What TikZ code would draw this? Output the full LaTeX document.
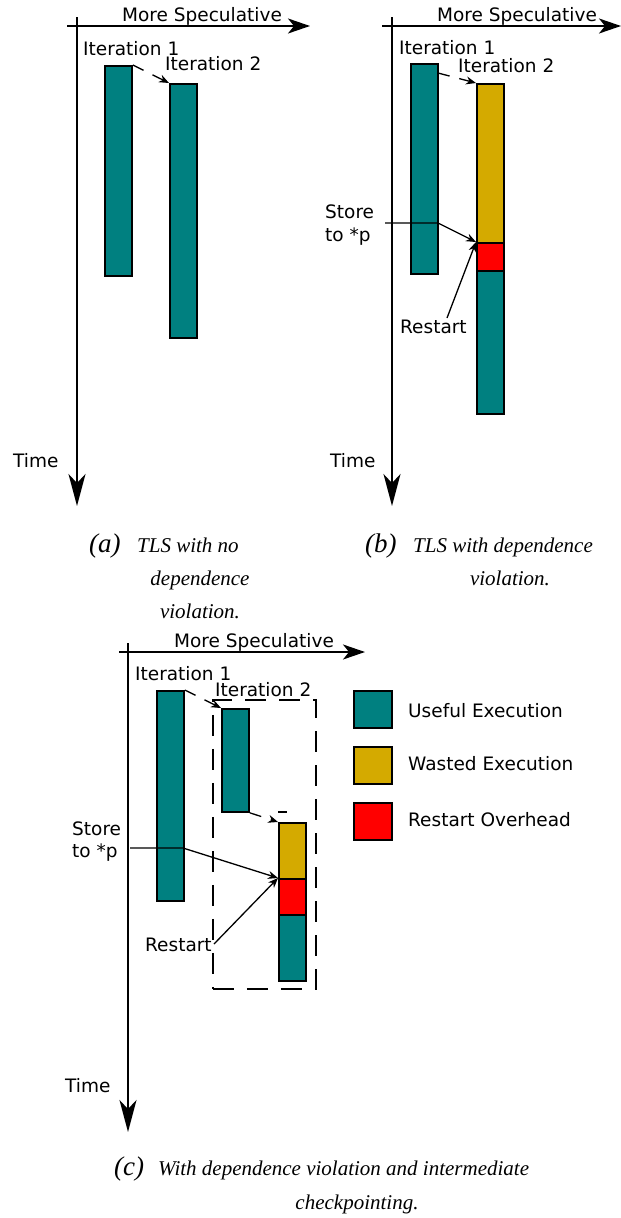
\documentclass[tikz,border=0pt]{standalone}
\usepackage{fontspec}
\setmainfont{Liberation Serif}
\setsansfont{DejaVu Sans}
\usetikzlibrary{arrows.meta}
\definecolor{useful}{HTML}{008080}
\definecolor{wasted}{HTML}{D4AA00}
\definecolor{overhead}{HTML}{FF0000}
\begin{document}
\begin{tikzpicture}[x=1pt,y=-1pt,
 lbl/.style={font=\sffamily\fontsize{18.5}{22}\selectfont, inner sep=0pt, anchor=base west},
 captext/.style={font=\itshape\fontsize{21}{24}\selectfont, inner sep=0pt},
 caplab/.style={font=\itshape\fontsize{27}{28}\selectfont, inner sep=0pt, anchor=base west},
 haxis/.style={line width=2pt, -{Stealth[length=22pt,width=15pt,inset=6pt]}},
 vaxis/.style={line width=2pt, -{Stealth[length=32pt,width=17pt,inset=9pt]}},
 bar/.style={draw=black, line width=1.8pt, inner sep=0pt, minimum width=27pt, anchor=north west},
 legbox/.style={draw=black, line width=1.8pt, inner sep=0pt, minimum width=38pt, minimum height=37pt, anchor=north west},
 ptr/.style={line width=1.3pt, -{Stealth[length=10pt,width=8pt]}},
 dptr/.style={ptr, dash pattern=on 12pt off 10pt},
 dbox/.style={draw=black, line width=1.5pt, dash pattern=on 21pt off 13pt, inner sep=0pt, anchor=north west},
]
\useasboundingbox (0,0) rectangle (621,1218);

% ---------------- panel (a)
\coordinate (a-h0) at (67,26); \coordinate (a-h1) at (310,26);
\draw[haxis] (a-h0) -- (a-h1);
\coordinate (a-v0) at (77,17); \coordinate (a-v1) at (77,506);
\draw[vaxis] (a-v0) -- (a-v1);
\node[lbl] (a-ms) at (122,21) {More Speculative};
\node[lbl] (a-it1) at (83,55) {Iteration 1};
\node[lbl] (a-it2) at (165,70) {Iteration 2};
\node[lbl] (a-time) at (13,467) {Time};
\node[bar, fill=useful, minimum height=210pt] (a-b1) at (104,65) {};
\node[bar, fill=useful, minimum height=254pt] (a-b2) at (169,83) {};
\draw[dptr] (a-b1.north east) -- (a-b2.north west);
\node[caplab] (a-cl) at (89,552) {(a)};
\node[captext, anchor=base west] (a-c1) at (137,552) {TLS with no};
\node[captext, anchor=base] (a-c2) at (200,585) {dependence};
\node[captext, anchor=base] (a-c3) at (200,618) {violation.};

% ---------------- panel (b)
\coordinate (b-h0) at (382,26); \coordinate (b-h1) at (621,26);
\draw[haxis] (b-h0) -- (b-h1);
\coordinate (b-v0) at (392,17); \coordinate (b-v1) at (392,506);
\draw[vaxis] (b-v0) -- (b-v1);
\node[lbl] (b-ms) at (437,21) {More Speculative};
\node[lbl] (b-it1) at (399,54) {Iteration 1};
\node[lbl] (b-it2) at (458,72) {Iteration 2};
\node[lbl] (b-time) at (330,467) {Time};
\node[bar, fill=useful, minimum height=210pt] (b-b1) at (410,63) {};
\node[bar, fill=wasted, minimum height=159pt] (b-g) at (476,83) {};
\node[bar, fill=overhead, minimum height=28pt] (b-r) at (476,242) {};
\node[bar, fill=useful, minimum height=143pt] (b-t) at (476,270) {};
\coordinate (b-d0) at (438,73);
\draw[dptr] (b-d0) -- (b-g.north west);
\node[lbl] (b-st1) at (325,218) {Store};
\node[lbl] (b-st2) at (325,241) {to *p};
\coordinate (b-s0) at (385,223); \coordinate (b-s1) at (438,223);
\draw[ptr] (b-s0) -- (b-s1) -- (b-r.north west);
\node[lbl] (b-rs) at (400,333) {Restart};
\coordinate (b-rs0) at (447,318);
\draw[ptr] (b-rs0) -- (b-r.north west);
\node[caplab] (b-cl) at (365,552) {(b)};
\node[captext, anchor=base west] (b-c1) at (413,552) {TLS with dependence};
\node[captext, anchor=base] (b-c2) at (510,585) {violation.};

% ---------------- panel (c)
\coordinate (c-h0) at (119,652); \coordinate (c-h1) at (365,652);
\draw[haxis] (c-h0) -- (c-h1);
\coordinate (c-v0) at (128,643); \coordinate (c-v1) at (128,1132);
\draw[vaxis] (c-v0) -- (c-v1);
\node[lbl] (c-ms) at (174,647) {More Speculative};
\node[lbl] (c-it1) at (135,680) {Iteration 1};
\node[lbl] (c-it2) at (215,696) {Iteration 2};
\node[lbl] (c-time) at (65,1092) {Time};
\node[dbox, minimum width=103pt, minimum height=289pt] (c-box) at (212,699) {};
\node[bar, fill=useful, minimum height=210pt] (c-b1) at (156,690) {};
\node[bar, fill=useful, minimum height=103pt] (c-b2) at (221,708) {};
\node[bar, fill=wasted, minimum height=56pt] (c-g) at (278,822) {};
\node[bar, fill=overhead, minimum height=36pt] (c-r) at (278,878) {};
\node[bar, fill=useful, minimum height=66pt] (c-t) at (278,914) {};
\draw[dptr] (c-b1.north east) -- (c-b2.north west);
\draw[dptr] (c-b2.south east) -- (c-g.north west);
\coordinate (c-k0) at (278,812); \coordinate (c-k1) at (287,812);
\draw[line width=1.3pt] (c-k0) -- (c-k1);
\node[lbl] (c-st1) at (72,835) {Store};
\node[lbl] (c-st2) at (72,857) {to *p};
\coordinate (c-s0) at (130,848); \coordinate (c-s1) at (183,848);
\draw[ptr] (c-s0) -- (c-s1) -- (c-r.north west);
\node[lbl] (c-rs) at (145,951) {Restart};
\coordinate (c-rs0) at (214,944);
\draw[ptr] (c-rs0) -- (c-r.north west);
\node[caplab] (c-cl) at (114,1175) {(c)};
\node[captext, anchor=base west] (c-c1) at (158,1175) {With dependence violation and intermediate};
\node[captext, anchor=base] (c-c2) at (357,1209) {checkpointing.};

% ---------------- legend
\node[legbox, fill=useful] (l-u) at (353,690) {};
\node[legbox, fill=wasted] (l-w) at (353,746) {};
\node[legbox, fill=overhead] (l-r) at (353,802) {};
\node[lbl] (l-ut) at (408,717) {Useful Execution};
\node[lbl] (l-wt) at (408,770) {Wasted Execution};
\node[lbl] (l-rt) at (408,826) {Restart Overhead};
\end{tikzpicture}
\end{document}
